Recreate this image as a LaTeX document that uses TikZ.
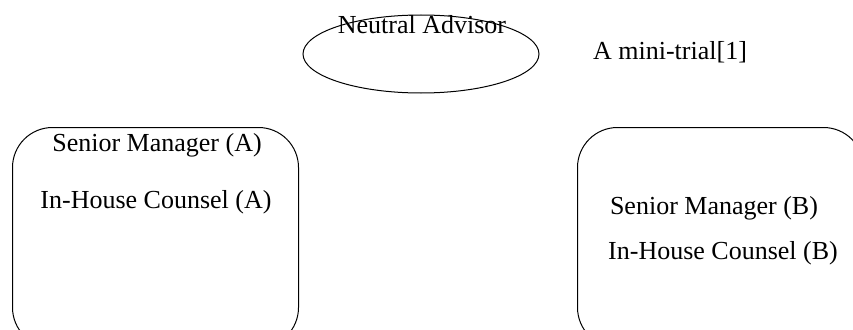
\documentclass[tikz,border=0pt]{standalone}
\usepackage{fontspec}
\setmainfont{Liberation Serif}
\usetikzlibrary{shapes.geometric}
\begin{document}
\begin{tikzpicture}[x=1pt, y=-1pt,
   every node/.style={font=\fontsize{26}{30}\selectfont, inner sep=0pt},
   party/.style={draw, rounded corners=40pt, minimum width=286pt, minimum height=220pt, line width=1pt},
   advisor/.style={draw, ellipse, minimum width=236pt, minimum height=78pt, line width=1pt}]

\useasboundingbox (0,0) rectangle (853,329);

\node[advisor] (advisor) at (421,54) {};
\node (advisorlabel) at (422,25) {Neutral Advisor};
\node (title) at (670,52) {A mini-trial[1]};

\node[party, anchor=north west] (partyA) at (12,127) {};
\node (managerA) at (157,145) {Senior Manager (A)};
\node (counselA) at (156,202) {In-House Counsel (A)};

\node[party, anchor=north west] (partyB) at (577,127) {};
\node (managerB) at (714,208) {Senior Manager (B)};
\node (counselB) at (723,253) {In-House Counsel (B)};

\end{tikzpicture}
\end{document}
